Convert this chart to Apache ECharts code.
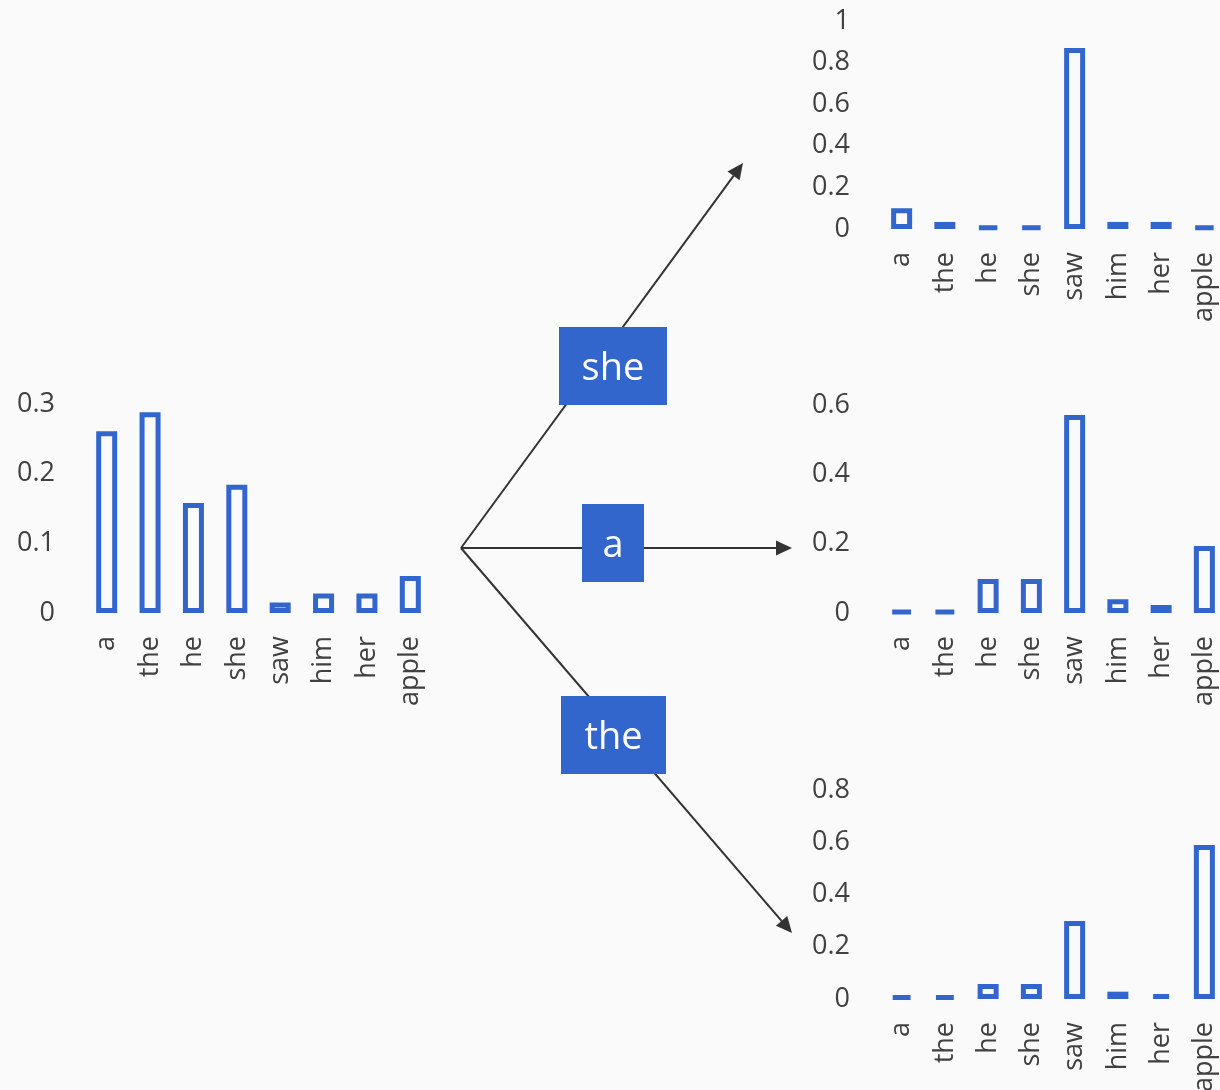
<!DOCTYPE html>
<html>
<head>
<meta charset="utf-8">
<script src="https://cdn.jsdelivr.net/npm/echarts@6/dist/echarts.min.js"></script>
<style>
  html, body { margin: 0; padding: 0; background: #fafafa; }
  #chart { width: 1220px; height: 1090px; }
</style>
</head>
<body>
<div id="chart"></div>
<script>
// words on every x axis
const words = ['a', 'the', 'he', 'she', 'saw', 'him', 'her', 'apple'];

// prior distribution (left) and the three conditioned ones (right)
const priorProbs = [0.261, 0.288, 0.158, 0.184, 0.015, 0.028, 0.028, 0.053];
const afterShe   = [0.1, 0.034, 0.012, 0.012, 0.87, 0.034, 0.034, 0.012];
const afterA     = [0.006, 0.006, 0.098, 0.098, 0.571, 0.04, 0.023, 0.193];
const afterThe   = [0.012, 0.012, 0.057, 0.057, 0.299, 0.028, 0.019, 0.589];

// y axis ranges: [max, interval]
const priorAxis = [0.3, 0.1];
const sheAxis   = [1, 0.2];
const aAxis     = [0.6, 0.2];
const theAxis   = [0.8, 0.2];

// branch labels on the arrows
const branchWords = ['she', 'a', 'the'];

const BLUE = '#3366cc';
const BG = '#fafafa';
const TEXT = '#404040';
const FONT = "'Open Sans', 'Noto Sans', sans-serif";

const chart = echarts.init(document.getElementById('chart'));

const grids = [
  { left: 85,  top: 404, width: 347, height: 209 },
  { left: 880, top: 21,  width: 346, height: 208 },
  { left: 880, top: 405, width: 346, height: 208 },
  { left: 880, top: 790, width: 346, height: 209 },
].map(g => Object.assign({ containLabel: false, outerBoundsMode: 'none' }, g));

const axesY = [priorAxis, sheAxis, aAxis, theAxis];
const seriesData = [priorProbs, afterShe, afterA, afterThe];

const xAxis = grids.map((g, i) => ({
  type: 'category',
  gridIndex: i,
  data: words,
  axisLine: { show: false },
  axisTick: { show: false },
  axisLabel: {
    rotate: 90, interval: 0, margin: 23,
    fontSize: 27, color: TEXT, fontFamily: FONT
  }
}));

const yAxis = axesY.map(([max, step], i) => ({
  type: 'value',
  gridIndex: i,
  min: 0, max: max, interval: step,
  axisLine: { show: false },
  axisTick: { show: false },
  splitLine: { show: false },
  axisLabel: {
    margin: 30, fontSize: 27, color: TEXT, fontFamily: FONT
  }
}));

const series = seriesData.map((d, i) => ({
  type: 'bar',
  xAxisIndex: i,
  yAxisIndex: i,
  data: d,
  barWidth: 21,
  itemStyle: { color: BG, borderColor: BLUE, borderWidth: 5 },
  silent: true
}));

// arrows fanning out from the prior chart
const origin = [461, 548];
const tips = [[743, 163], [792, 548], [792, 933]];
const boxes = [
  { x: 559, y: 327, w: 108, h: 78 },
  { x: 582, y: 504, w: 62,  h: 78 },
  { x: 561, y: 696, w: 105, h: 78 },
];

const graphic = [];
tips.forEach(([tx, ty]) => {
  const dx = tx - origin[0], dy = ty - origin[1];
  const len = Math.hypot(dx, dy);
  const ux = dx / len, uy = dy / len;
  const headLen = 16, headHalf = 7.5;
  const bx = tx - ux * headLen, by = ty - uy * headLen;
  graphic.push({
    type: 'line', z: 10,
    shape: { x1: origin[0], y1: origin[1], x2: bx, y2: by },
    style: { stroke: '#333', lineWidth: 2 }
  });
  graphic.push({
    type: 'polygon', z: 10,
    shape: { points: [[tx, ty], [bx - uy * headHalf, by + ux * headHalf], [bx + uy * headHalf, by - ux * headHalf]] },
    style: { fill: '#333' }
  });
});
boxes.forEach((b, i) => {
  graphic.push({
    type: 'rect', z: 20,
    shape: { x: b.x, y: b.y, width: b.w, height: b.h },
    style: { fill: BLUE }
  });
  graphic.push({
    type: 'text', z: 21,
    x: b.x + b.w / 2, y: b.y + b.h / 2 + 3,
    style: {
      text: branchWords[i], fill: '#fff', fontSize: 38, fontFamily: FONT,
      align: 'center', verticalAlign: 'middle'
    }
  });
});

chart.setOption({
  backgroundColor: BG,
  animation: false,
  grid: grids,
  xAxis: xAxis,
  yAxis: yAxis,
  series: series,
  graphic: graphic
});
</script>
</body>
</html>
